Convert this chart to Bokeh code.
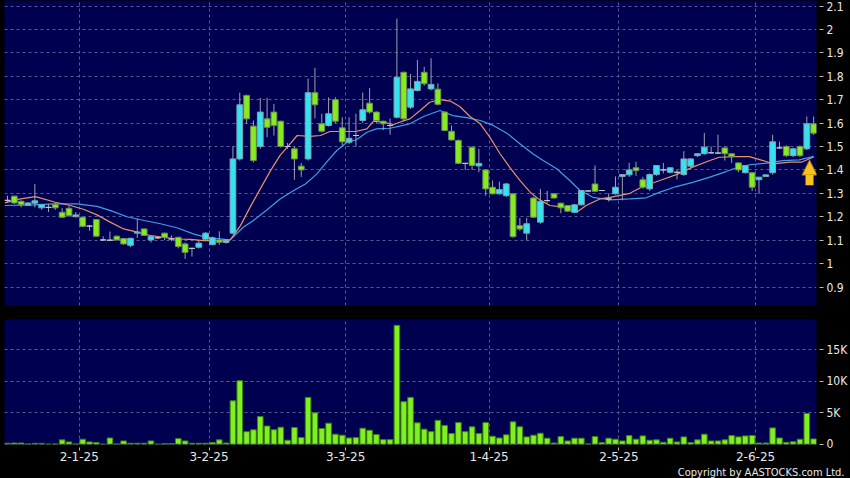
from bokeh.plotting import figure
from bokeh.layouts import column
from bokeh.models import (Range1d, FixedTicker, Title, Arrow, NormalHead,
                          ColumnDataSource, NumeralTickFormatter)
from bokeh.embed import file_html
from bokeh.resources import INLINE
from jinja2 import Template

# ---------------- data ----------------
open_ = [1.270, 1.288, 1.266, 1.249, 1.258, 1.238, 1.240, 1.252, 1.219, 1.236,
         1.200, 1.198, 1.160, 1.188, 1.101, 1.100, 1.117, 1.107, 1.078, 1.130,
         1.148, 1.101, 1.110, 1.130, 1.105, 1.112, 1.084, 1.065, 1.070, 1.104,
         1.081, 1.101, 1.090, 1.130, 1.447, 1.718, 1.587, 1.500, 1.618, 1.647,
         1.608, 1.500, 1.490, 1.416, 1.447, 1.730, 1.597, 1.590, 1.700, 1.580,
         1.518, 1.547, 1.611, 1.685, 1.647, 1.608, 1.590, 1.625, 1.817, 1.668,
         1.739, 1.817, 1.746, 1.745, 1.647, 1.565, 1.526, 1.428, 1.497, 1.417,
         1.400, 1.326, 1.298, 1.290, 1.298, 1.162, 1.130, 1.280, 1.177, 1.269,
         1.298, 1.258, 1.248, 1.219, 1.251, 1.310, 1.340, 1.312, 1.276, 1.298,
         1.372, 1.379, 1.409, 1.358, 1.319, 1.380, 1.400, 1.390, 1.390, 1.380,
         1.416, 1.461, 1.469, 1.473, 1.472, 1.494, 1.469, 1.430, 1.388, 1.388,
         1.358, 1.372, 1.388, 1.494, 1.500, 1.461, 1.500, 1.490, 1.597]
high = [1.290, 1.290, 1.270, 1.262, 1.340, 1.255, 1.255, 1.260, 1.237, 1.245,
        1.220, 1.200, 1.165, 1.190, 1.117, 1.137, 1.120, 1.110, 1.110, 1.191,
        1.150, 1.120, 1.115, 1.132, 1.120, 1.115, 1.090, 1.068, 1.100, 1.135,
        1.115, 1.138, 1.105, 1.500, 1.730, 1.722, 1.611, 1.708, 1.708, 1.682,
        1.610, 1.515, 1.500, 1.430, 1.790, 1.836, 1.640, 1.710, 1.710, 1.625,
        1.625, 1.640, 1.730, 1.750, 1.650, 1.610, 1.620, 2.046, 1.820, 1.810,
        1.870, 1.840, 1.877, 1.770, 1.650, 1.590, 1.530, 1.430, 1.500, 1.490,
        1.402, 1.355, 1.350, 1.345, 1.300, 1.195, 1.195, 1.285, 1.319, 1.310,
        1.300, 1.260, 1.250, 1.255, 1.315, 1.312, 1.419, 1.315, 1.300, 1.372,
        1.382, 1.430, 1.435, 1.370, 1.385, 1.420, 1.430, 1.410, 1.400, 1.480,
        1.450, 1.470, 1.558, 1.500, 1.551, 1.500, 1.470, 1.432, 1.420, 1.390,
        1.370, 1.380, 1.550, 1.520, 1.505, 1.495, 1.505, 1.628, 1.628]
low = [1.260, 1.255, 1.240, 1.246, 1.240, 1.230, 1.220, 1.230, 1.195, 1.200,
       1.198, 1.155, 1.140, 1.115, 1.098, 1.098, 1.098, 1.080, 1.070, 1.110,
       1.118, 1.090, 1.105, 1.100, 1.095, 1.065, 1.020, 1.030, 1.065, 1.100,
       1.078, 1.080, 1.085, 1.125, 1.440, 1.597, 1.432, 1.490, 1.540, 1.547,
       1.495, 1.490, 1.358, 1.370, 1.440, 1.620, 1.560, 1.585, 1.600, 1.505,
       1.510, 1.500, 1.600, 1.640, 1.600, 1.570, 1.550, 1.620, 1.610, 1.660,
       1.735, 1.760, 1.740, 1.675, 1.565, 1.525, 1.425, 1.400, 1.400, 1.390,
       1.290, 1.295, 1.295, 1.285, 1.110, 1.140, 1.098, 1.195, 1.170, 1.260,
       1.278, 1.215, 1.220, 1.215, 1.248, 1.308, 1.305, 1.310, 1.265, 1.295,
       1.270, 1.370, 1.375, 1.320, 1.310, 1.375, 1.385, 1.385, 1.360, 1.375,
       1.410, 1.455, 1.465, 1.470, 1.470, 1.440, 1.430, 1.390, 1.385, 1.310,
       1.298, 1.370, 1.380, 1.490, 1.455, 1.455, 1.455, 1.485, 1.550]
close_ = [1.270, 1.259, 1.251, 1.259, 1.268, 1.251, 1.240, 1.238, 1.198, 1.205,
          1.208, 1.159, 1.160, 1.117, 1.101, 1.100, 1.101, 1.084, 1.108, 1.135,
          1.120, 1.117, 1.110, 1.112, 1.105, 1.073, 1.048, 1.065, 1.087, 1.130,
          1.110, 1.091, 1.100, 1.447, 1.678, 1.618, 1.440, 1.647, 1.582, 1.590,
          1.500, 1.500, 1.447, 1.400, 1.730, 1.678, 1.565, 1.640, 1.608, 1.520,
          1.535, 1.547, 1.657, 1.647, 1.611, 1.597, 1.590, 1.796, 1.618, 1.746,
          1.778, 1.768, 1.765, 1.680, 1.568, 1.528, 1.428, 1.428, 1.419, 1.428,
          1.319, 1.298, 1.316, 1.340, 1.115, 1.148, 1.170, 1.198, 1.266, 1.269,
          1.280, 1.238, 1.224, 1.251, 1.312, 1.310, 1.309, 1.312, 1.276, 1.326,
          1.380, 1.400, 1.397, 1.326, 1.380, 1.419, 1.400, 1.409, 1.390, 1.447,
          1.447, 1.469, 1.497, 1.473, 1.472, 1.469, 1.458, 1.400, 1.419, 1.326,
          1.369, 1.379, 1.520, 1.494, 1.461, 1.490, 1.461, 1.597, 1.557]
volume_k = [0.16, 0.20, 0.20, 0.05, 0.15, 0.15, 0.00, 0.05, 0.70, 0.37,
            0.05, 0.80, 0.37, 0.27, 0.00, 1.00, 0.05, 0.53, 0.16, 0.16,
            0.16, 0.53, 0.00, 0.10, 0.10, 0.90, 0.53, 0.16, 0.16, 0.16,
            0.27, 0.70, 0.20, 6.90, 10.1, 2.00, 2.30, 4.40, 2.90, 2.30,
            2.70, 0.64, 2.66, 1.06, 7.45, 5.00, 2.50, 3.35, 1.60, 1.44,
            1.00, 1.06, 2.55, 2.23, 1.54, 0.74, 0.74, 18.9, 6.76, 7.45,
            3.40, 2.40, 2.00, 3.80, 3.00, 1.70, 3.45, 2.00, 2.77, 1.70,
            3.45, 1.28, 1.00, 1.50, 3.56, 2.77, 1.17, 1.44, 1.75, 0.96,
            0.20, 1.22, 0.53, 0.96, 0.96, 0.05, 1.22, 0.27, 0.96, 0.80,
            0.53, 1.38, 0.80, 1.33, 0.64, 0.70, 0.32, 0.96, 0.37, 1.17,
            0.27, 0.70, 1.60, 0.53, 0.53, 0.70, 1.38, 1.17, 1.33, 1.40,
            0.20, 0.20, 2.60, 1.00, 0.30, 0.40, 0.80, 4.90, 0.85]

# moving-average lines (x = bar position, y = price)
ma10_x = [-0.4, 1.9, 4.1, 7.0, 9.2, 11.2, 13.1, 15.1, 17.0, 19.0, 20.9, 22.9,
          24.8, 26.8, 28.7, 31.0, 32.6, 34.1, 35.5, 37.0, 38.5, 39.9, 41.4,
          42.4, 44.3, 45.8, 47.2, 49.2, 51.1, 52.6, 53.6, 55.0, 56.5, 57.7,
          58.9, 60.4, 61.8, 63.3, 64.8, 66.2, 67.7, 69.2, 70.6, 72.1, 73.5,
          75.0, 76.5, 77.9, 79.4, 81.3, 83.3, 84.7, 86.7, 88.2, 91.1, 93.0,
          95.5, 97.9, 100.3, 102.8, 104.2, 106.7, 108.6, 110.6, 112.0, 114.5,
          116.2, 118.0]
ma10_y = [1.259, 1.276, 1.286, 1.262, 1.248, 1.231, 1.208, 1.176, 1.148, 1.134,
          1.120, 1.112, 1.105, 1.103, 1.098, 1.098, 1.101, 1.162, 1.240, 1.319,
          1.397, 1.462, 1.512, 1.547, 1.543, 1.547, 1.564, 1.564, 1.565, 1.575,
          1.608, 1.604, 1.594, 1.607, 1.618, 1.654, 1.689, 1.700, 1.694, 1.671,
          1.628, 1.597, 1.540, 1.469, 1.412, 1.355, 1.305, 1.272, 1.248, 1.241,
          1.219, 1.248, 1.276, 1.283, 1.300, 1.329, 1.355, 1.380, 1.412, 1.440,
          1.454, 1.457, 1.457, 1.440, 1.426, 1.433, 1.433, 1.455]
ma20_x = [-0.4, 3.9, 6.8, 10.2, 13.1, 15.1, 17.5, 20.0, 22.4, 24.8, 27.2, 28.7,
          30.2, 32.6, 34.5, 36.0, 38.0, 39.9, 41.9, 43.6, 45.3, 46.7, 48.2,
          49.7, 51.1, 52.6, 54.0, 56.0, 57.9, 58.9, 60.9, 63.3, 65.2, 67.2,
          69.2, 71.1, 73.1, 75.0, 76.9, 78.4, 80.4, 82.3, 83.8, 85.7, 88.2,
          91.1, 93.5, 95.5, 97.9, 100.3, 102.8, 105.2, 106.7, 108.6, 111.1,
          113.5, 115.9, 118.0]
ma20_y = [1.248, 1.251, 1.255, 1.255, 1.244, 1.226, 1.200, 1.184, 1.170, 1.153,
          1.127, 1.115, 1.108, 1.101, 1.155, 1.184, 1.230, 1.276, 1.312, 1.340,
          1.383, 1.433, 1.483, 1.518, 1.529, 1.561, 1.575, 1.578, 1.590, 1.597,
          1.628, 1.654, 1.632, 1.623, 1.611, 1.590, 1.557, 1.512, 1.469, 1.440,
          1.405, 1.355, 1.312, 1.283, 1.272, 1.276, 1.281, 1.305, 1.329, 1.347,
          1.369, 1.393, 1.409, 1.422, 1.429, 1.440, 1.443, 1.458]

# first trading day of each labelled month (bar index) and its label
month_bar = [11, 30, 50, 71, 90, 110]
month_labels = ["2-1-25", "3-2-25", "3-3-25", "1-4-25", "2-5-25", "2-6-25"]

price_ticks = [0.9, 1.0, 1.1, 1.2, 1.3, 1.4, 1.5, 1.6, 1.7, 1.8, 1.9, 2.0, 2.1]
vol_ticks = [0, 5000, 10000, 15000]
vol_labels = ["0", "5K", "10K", "15K"]

# marker arrow (bar position, from price, to price)
arrow_bar = 117.4
arrow_from, arrow_to = 1.335, 1.442

# ---------------- styling ----------------
NAVY = "#000050"
GRID = "#5a5a92"
CYAN = "#33e3f2"
GREEN = "#88ea22"
TXT = "#e8e8e8"
FONT = "DejaVu Sans"
YFONT = "DejaVu Sans Condensed"

idx = list(range(len(close_)))
grid_pos = [b - 0.5 for b in month_bar]


def body_source(ids):
    return ColumnDataSource(dict(
        x=ids,
        top=[max(open_[i], close_[i]) for i in ids],
        bottom=[min(open_[i], close_[i]) for i in ids]))


up_ids = [i for i in idx if close_[i] > open_[i]]
dn_ids = [i for i in idx if close_[i] < open_[i]]
dj_ids = [i for i in idx if close_[i] == open_[i]]

xr = Range1d(-0.44, 118.42)

# ---------------- price panel ----------------
p1 = figure(width=850, height=319, x_range=xr, y_range=Range1d(0.821, 2.1235),
            output_backend="svg", toolbar_location=None,
            x_axis_location=None, y_axis_location="right",
            background_fill_color=NAVY, border_fill_color="black",
            outline_line_color=None, min_border_left=4, min_border_top=0,
            min_border_bottom=14, min_border_right=33)

p1.ygrid.grid_line_color = GRID
p1.ygrid.grid_line_dash = "3 3"
p1.xgrid.ticker = FixedTicker(ticks=grid_pos)
p1.xgrid.grid_line_color = GRID
p1.xgrid.grid_line_dash = "3 3"

ax = p1.yaxis[0]
ax.ticker = FixedTicker(ticks=price_ticks)
ax.formatter = NumeralTickFormatter(format="0.[0]")
ax.axis_line_color = None
ax.major_tick_line_color = "#bbbbbb"
ax.major_tick_in = -3
ax.major_tick_out = 7
ax.minor_tick_line_color = None
ax.major_label_standoff = 3
ax.major_label_text_color = TXT
ax.major_label_text_font = YFONT
ax.major_label_text_font_size = "12px"

p1.line(ma20_x, ma20_y, line_color="#3d9fe6", line_width=1.2)
p1.line(ma10_x, ma10_y, line_color="#e8916a", line_width=1.2)

p1.segment(x0=idx, y0=low, x1=idx, y1=high, line_color="#a0a0a8", line_width=1)
p1.vbar(x="x", top="top", bottom="bottom", width=0.84, source=body_source(up_ids),
        fill_color=CYAN, line_color="#7fa3b0", line_width=1)
p1.vbar(x="x", top="top", bottom="bottom", width=0.84, source=body_source(dn_ids),
        fill_color=GREEN, line_color="#6a9050", line_width=1)
p1.vbar(x="x", top="top", bottom="bottom", width=0.84, source=body_source(dj_ids),
        fill_color="#c8c8c8", line_color="#c8c8c8", line_width=1)

p1.add_layout(Arrow(end=NormalHead(size=15, fill_color="#f6c21c", line_color="#b07a00",
                                   line_width=1),
                    x_start=arrow_bar, y_start=arrow_from, x_end=arrow_bar, y_end=arrow_to,
                    line_color="#f6c21c", line_width=8))

# ---------------- volume panel ----------------
p2 = figure(width=850, height=159, x_range=xr, y_range=Range1d(-40, 19830),
            output_backend="svg", toolbar_location=None, y_axis_location="right",
            background_fill_color=NAVY, border_fill_color="black",
            outline_line_color=None, min_border_left=4, min_border_top=0,
            min_border_right=33)

p2.ygrid.grid_line_color = GRID
p2.ygrid.grid_line_dash = "3 3"
p2.xgrid.grid_line_color = GRID
p2.xgrid.grid_line_dash = "3 3"

vol = [v * 1000 for v in volume_k]
p2.vbar(x=idx, top=vol, bottom=0, width=0.82, fill_color="#7ff020",
        line_color="#3f8010", line_width=1)

for a in (p2.xaxis[0], p2.yaxis[0]):
    a.axis_line_color = None
    a.major_tick_line_color = "#bbbbbb"
    a.major_tick_in = -3
    a.minor_tick_line_color = None
    a.major_label_text_color = TXT
    a.major_label_text_font_size = "12px"

xa = p2.xaxis[0]
xa.ticker = FixedTicker(ticks=grid_pos)
xa.major_label_overrides = {g: l for g, l in zip(grid_pos, month_labels)}
xa.major_label_text_font = FONT
xa.major_tick_out = 6
xa.major_label_standoff = 1

ya = p2.yaxis[0]
ya.ticker = FixedTicker(ticks=vol_ticks)
ya.major_label_overrides = {t: l for t, l in zip(vol_ticks, vol_labels)}
ya.major_label_text_font = YFONT
ya.major_tick_out = 7
ya.major_label_standoff = 3

p2.add_layout(Title(text="Copyright by AASTOCKS.com Ltd.", align="right",
                    text_color=TXT, text_font=YFONT,
                    text_font_size="11px", text_font_style="normal",
                    standoff=0, offset=-28), "below")

layout = column(p1, p2, spacing=0, styles={"background-color": "black"})

tmpl = Template("""{% extends base %}
{% block preamble %}<style>html, body { background: #000; }</style>{% endblock %}""")

open("out.html", "w").write(file_html(layout, INLINE, template=tmpl))
